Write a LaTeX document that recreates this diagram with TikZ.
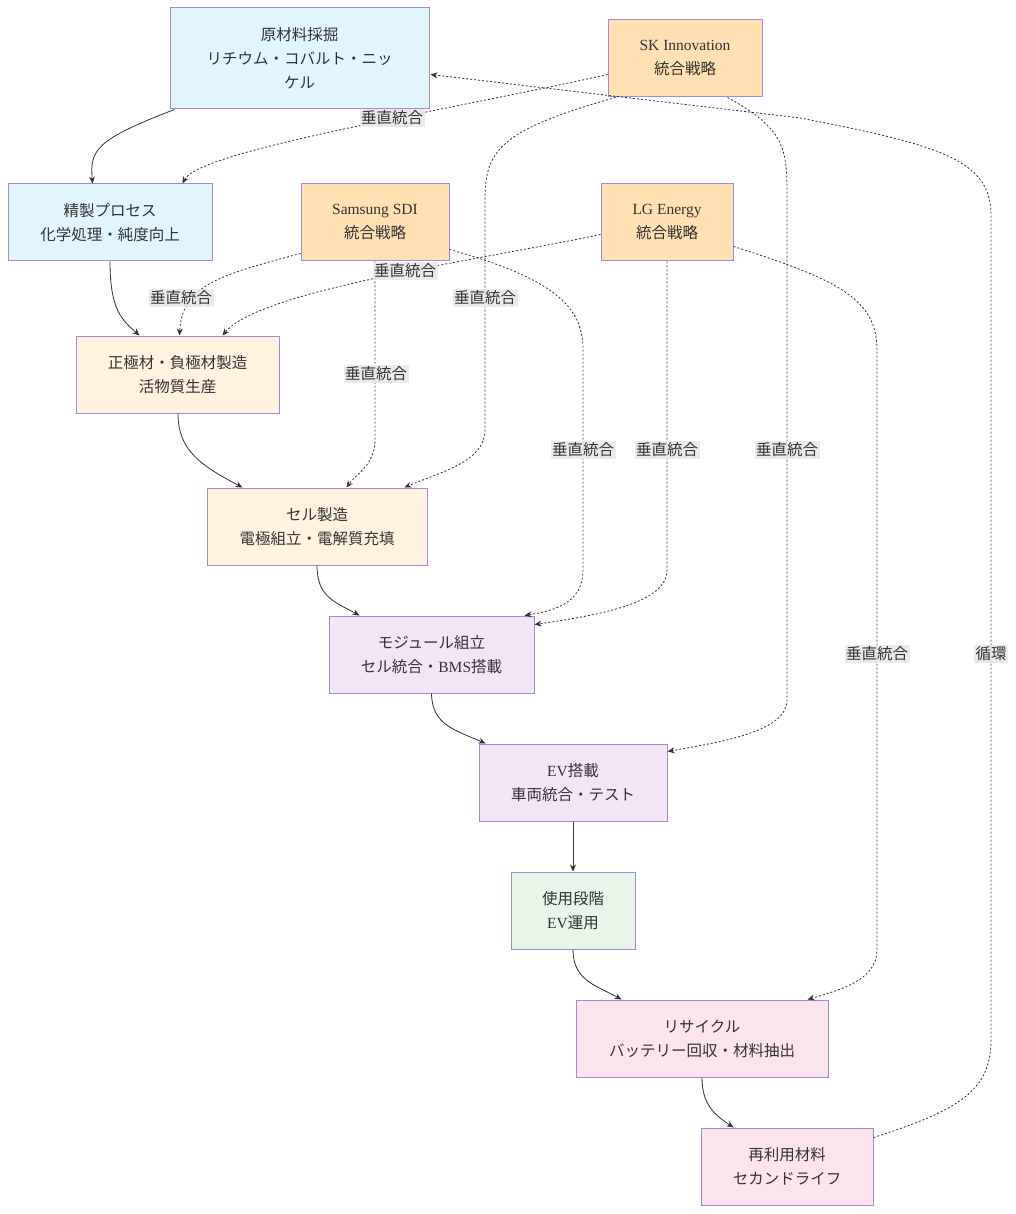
\documentclass[tikz,border=0pt]{standalone}
\usepackage{fontspec}
\setmainfont{Liberation Serif}
\newfontfamily\jp{Noto Sans CJK JP}
\newfontfamily\latf{Liberation Serif}
\usetikzlibrary{arrows.meta,calc}
\definecolor{txt}{HTML}{333333}
\definecolor{bord}{HTML}{A48AD9}
\definecolor{cblue}{HTML}{E1F5FE}
\definecolor{corange}{HTML}{FFE0B2}
\definecolor{clorange}{HTML}{FFF3E0}
\definecolor{cpurple}{HTML}{F3E5F5}
\definecolor{cgreen}{HTML}{E8F5E9}
\definecolor{cpink}{HTML}{FCE4EC}
\definecolor{lblbg}{HTML}{E8E8E8}
\begin{document}
\begin{tikzpicture}[x=1pt,y=-1pt,
  box/.style={draw=bord,line width=1pt,rectangle,align=center,text=txt,inner sep=0pt,
    font=\jp\fontsize{15.5}{24}\selectfont},
  flow/.style={draw=txt,line width=0.8pt,-{Stealth[length=7pt,width=6pt]}},
  dot/.style={draw=txt,line width=0.8pt,dash pattern=on 2pt off 2pt,-{Stealth[length=7pt,width=6pt]}},
  lbl/.style={fill=lblbg,fill opacity=0.9,text opacity=1,text=txt,inner sep=1.5pt,
    font=\jp\fontsize{15.5}{20}\selectfont}]
\useasboundingbox (0,0) rectangle (1016,1214);
\fill[white] (0,0) rectangle (1016,1214);

% nodes
\node[box,fill=cblue,minimum width=259pt,minimum height=101pt] (raw) at (299.5,58.5)
  {原材料採掘\\リチウム・コバルト・ニッ\\ケル};
\node[box,fill=corange,minimum width=154pt,minimum height=77pt] (sk) at (685,58.5)
  {{\latf SK Innovation}\\統合戦略};
\node[box,fill=cblue,minimum width=204pt,minimum height=77pt] (ref) at (110,222.5)
  {精製プロセス\\化学処理・純度向上};
\node[box,fill=corange,minimum width=148pt,minimum height=77pt] (ss) at (375,222.5)
  {{\latf Samsung SDI}\\統合戦略};
\node[box,fill=corange,minimum width=132pt,minimum height=77pt] (lg) at (667,222.5)
  {{\latf LG Energy}\\統合戦略};
\node[box,fill=clorange,minimum width=203pt,minimum height=77pt] (cath) at (177.5,374.5)
  {正極材・負極材製造\\活物質生産};
\node[box,fill=clorange,minimum width=220pt,minimum height=77pt] (cell) at (317,526.5)
  {セル製造\\電極組立・電解質充填};
\node[box,fill=cpurple,minimum width=205pt,minimum height=77pt] (mod) at (431.5,654.5)
  {モジュール組立\\セル統合・{\latf BMS}搭載};
\node[box,fill=cpurple,minimum width=188pt,minimum height=77pt] (ev) at (573,782.5)
  {{\latf EV}搭載\\車両統合・テスト};
\node[box,fill=cgreen,minimum width=124pt,minimum height=77pt] (use) at (573,910.5)
  {使用段階\\{\latf EV}運用};
\node[box,fill=cpink,minimum width=252pt,minimum height=77pt] (rec) at (702,1038.5)
  {リサイクル\\バッテリー回収・材料抽出};
\node[box,fill=cpink,minimum width=172pt,minimum height=77pt] (reuse) at (787,1166.5)
  {再利用材料\\セカンドライフ};

% solid flow
\draw[flow] ($(raw.south west)+(5,0)$) .. controls (95,140) and (90,150) .. ($(ref.north west)+(85,0)$);
\draw[flow] (ref.south) .. controls (110,310) and (122,320) .. ($(cath.north west)+(64,0)$);
\draw[flow] ($(cath.south)+(0.5,0)$) .. controls (178,450) and (200,465) .. ($(cell.north west)+(36,0)$);
\draw[flow] ($(cell.south)$) .. controls (317,597) and (335,602) .. ($(mod.north west)+(31,0)$);
\draw[flow] ($(mod.south)$) .. controls (432,725) and (455,730) .. ($(ev.north west)+(7,0)$);
\draw[flow] (ev.south) -- (use.north);
\draw[flow] (use.south) .. controls (573,980) and (595,985) .. ($(rec.north west)+(46,0)$);
\draw[flow] (rec.south) .. controls (702,1105) and (715,1115) .. ($(reuse.north west)+(33,0)$);

% dotted integrations
\draw[dot] ($(reuse.north east)+(0,10)$) .. controls (960,1110) and (991,1090) .. (991,1040)
  -- (991,215) .. controls (991,160) and (940,145) .. (800,118) -- ($(raw.north east)+(1,67)$);
\node[lbl] (lcyc) at (991,654) {循環};

\draw[dot] ($(sk.north west)+(0,55)$) .. controls (450,110) and (200,150) .. ($(ref.north west)+(175,0)$);
\node[lbl] (l1) at (392,118) {垂直統合};

\draw[dot] ($(sk.south west)+(8,0)$) .. controls (500,130) and (485,150) .. (485,200)
  -- (485,430) .. controls (485,462) and (440,472) .. ($(cell.north west)+(198,0)$);
\node[lbl] (l2) at (485,298) {垂直統合};

\draw[dot] ($(sk.south west)+(120,0)$) .. controls (787,130) and (787,150) .. (787,200)
  -- (787,700) .. controls (787,732) and (720,742) .. ($(ev.north east)+(0,8)$);
\node[lbl] (l3) at (787,450) {垂直統合};

\draw[dot] ($(ss.south west)+(0,-8)$) .. controls (220,275) and (182,285) .. ($(cath.north west)+(104,0)$);
\node[lbl] (l4) at (181,298) {垂直統合};

\draw[dot] (ss.south) -- (375,440) .. controls (375,465) and (356,474) .. ($(cell.north west)+(140,0)$);
\node[lbl] (l5) at (376,374) {垂直統合};

\draw[dot] ($(ss.north east)+(0,66)$) .. controls (560,280) and (583,310) .. (583,350)
  -- (583,570) .. controls (583,600) and (560,610) .. ($(mod.north west)+(196,0)$);
\node[lbl] (l6) at (583,450) {垂直統合};

\draw[dot] ($(lg.north west)+(0,51)$) .. controls (480,260) and (260,290) .. ($(cath.north west)+(147,0)$);
\node[lbl] (l7) at (405,271) {垂直統合};

\draw[dot] (lg.south) -- (667,570) .. controls (667,603) and (600,615) .. ($(mod.north east)+(0,9)$);
\node[lbl] (l8) at (667,450) {垂直統合};

\draw[dot] ($(lg.north east)+(0,63)$) .. controls (840,280) and (877,300) .. (877,350)
  -- (877,950) .. controls (877,980) and (840,990) .. ($(rec.north west)+(232,0)$);
\node[lbl] (l9) at (877,654) {垂直統合};
\end{tikzpicture}
\end{document}
